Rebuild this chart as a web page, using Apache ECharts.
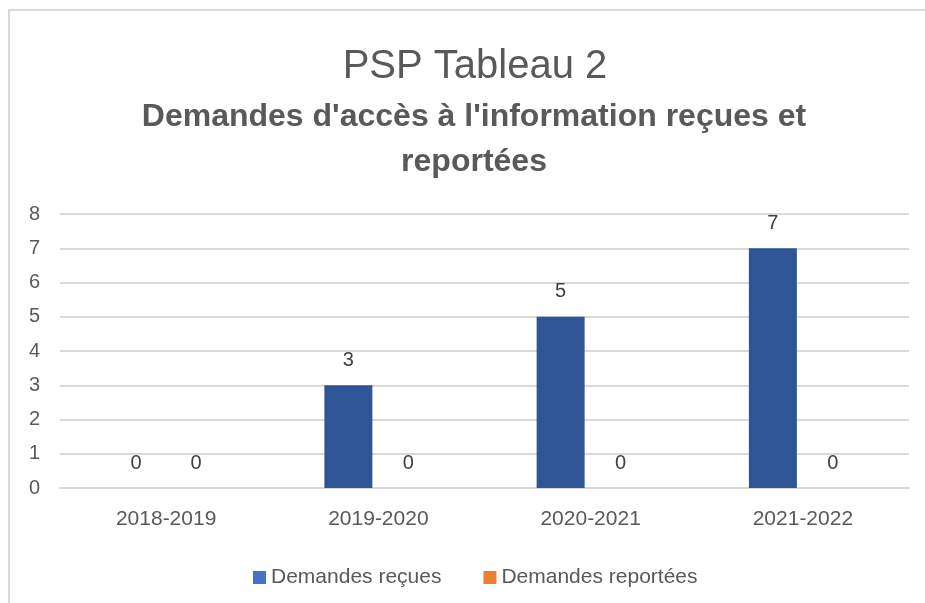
<!DOCTYPE html>
<html>
<head>
<meta charset="utf-8">
<script src="https://cdn.jsdelivr.net/npm/echarts@6/dist/echarts.min.js"></script>
<style>
  html, body { margin: 0; padding: 0; background: #fff; }
  #main { width: 925px; height: 603px; }
</style>
</head>
<body>
<div id="main"></div>
<script>
// data
const years = ['2018-2019', '2019-2020', '2020-2021', '2021-2022'];
const recues = [0, 3, 5, 7];
const reportees = [0, 0, 0, 0];
const seriesNames = ['Demandes reçues', 'Demandes reportées'];

const font = "'Liberation Sans', Arial, sans-serif";
const grey = '#595959';

let chart = echarts.init(document.getElementById('main'));

let labelStyle = {
    show: true,
    position: 'top',
    distance: 15,
    color: '#404040',
    fontSize: 20,
    fontFamily: font
};

chart.setOption({
    animation: false,
    backgroundColor: '#fff',
    graphic: [{
        type: 'rect',
        shape: { x: 9, y: 10, width: 1000, height: 1000 },
        style: { fill: 'none', stroke: '#d9d9d9', lineWidth: 2 }
    }],
    title: [{
        text: 'PSP Tableau 2',
        left: 470,
        top: 42,
        textAlign: 'center',
        textStyle: { fontFamily: font, fontSize: 40, fontWeight: 'normal', color: grey, lineHeight: 40 }
    }, {
        text: "Demandes d'accès à l'information reçues et\nreportées",
        left: 469,
        top: 90,
        textAlign: 'center',
        textStyle: { fontFamily: font, fontSize: 32, fontWeight: 'bold', color: grey, lineHeight: 45 }
    }],
    legend: {
        data: [
            { name: seriesNames[0], itemStyle: { color: '#4472C4' } },
            { name: seriesNames[1], itemStyle: { color: '#ED7D31' } }
        ],
        left: 248,
        top: 562,
        icon: 'rect',
        itemWidth: 13,
        itemHeight: 13,
        itemGap: 42,
        textStyle: { fontFamily: font, fontSize: 21, color: grey, padding: [0, 0, 0, 0] }
    },
    grid: { left: 60, right: 16, top: 214, bottom: 115 },
    xAxis: {
        type: 'category',
        data: years,
        axisLine: { lineStyle: { color: '#d9d9d9', width: 2 } },
        axisTick: { show: false },
        axisLabel: { color: grey, fontFamily: font, fontSize: 21, margin: 21 }
    },
    yAxis: {
        type: 'value',
        min: 0,
        max: 8,
        interval: 1,
        axisLine: { show: false },
        axisTick: { show: false },
        splitLine: { lineStyle: { color: '#d9d9d9', width: 2 } },
        axisLabel: { color: grey, fontFamily: font, fontSize: 20, margin: 20 }
    },
    series: [{
        name: seriesNames[0],
        type: 'bar',
        data: recues,
        barWidth: 48,
        barGap: '25%',
        itemStyle: { color: '#2F5597' },
        label: labelStyle
    }, {
        name: seriesNames[1],
        type: 'bar',
        data: reportees,
        barWidth: 48,
        itemStyle: { color: '#ED7D31' },
        label: labelStyle
    }]
});
</script>
</body>
</html>
